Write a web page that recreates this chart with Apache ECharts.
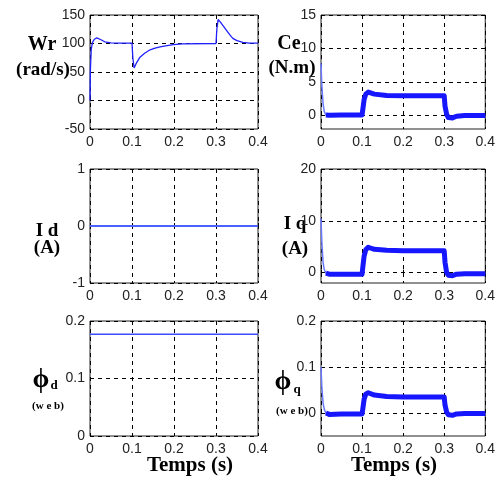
<!DOCTYPE html>
<html>
<head>
<meta charset="utf-8">
<script src="https://cdn.jsdelivr.net/npm/echarts@6/dist/echarts.min.js"></script>
<style>
html,body{margin:0;padding:0;background:#fff;}
.box{width:498px;height:482px;}
</style>
</head>
<body>
<div class="box"></div>
<script>
// rotor speed
const tWr = [0, 0.001, 0.003, 0.006, 0.01, 0.016, 0.025, 0.035, 0.05, 0.07, 0.1, 0.102, 0.105, 0.11, 0.119, 0.13, 0.143, 0.155, 0.167, 0.18, 0.198, 0.22, 0.3, 0.302, 0.305, 0.31, 0.318, 0.325, 0.333, 0.34, 0.35, 0.364, 0.38, 0.4];
const wr = [0, 55, 90, 102, 107, 110, 107, 103, 101, 100.5, 100.5, 75, 57, 65, 76, 83, 89, 92, 94, 96, 98, 99.5, 100, 125, 142, 138, 130, 123, 115, 109, 105, 102, 100.5, 100.5];
// torque, q current, q flux share one time base
const tDyn = [0, 0.002, 0.005, 0.008, 0.012, 0.02, 0.05, 0.1, 0.102, 0.105, 0.109, 0.115, 0.13, 0.16, 0.2, 0.3, 0.302, 0.306, 0.31, 0.32, 0.33, 0.35, 0.4];
const ce = [7.8, 4.5, 1.8, 0.6, 0.1, 0.05, 0.1, 0.1, 1.0, 2.4, 3.2, 3.5, 3.2, 3.0, 2.95, 2.95, 1.4, 0.2, -0.3, -0.35, -0.1, 0.0, 0.0];
const iq = [10.5, 6, 2, 0.6, -0.1, -0.3, -0.3, -0.3, 1.2, 3.2, 4.4, 4.9, 4.5, 4.3, 4.2, 4.2, 2, 0, -0.5, -0.6, -0.3, -0.2, -0.2];
const phiq = [0.1, 0.058, 0.022, 0.008, 0.0, -0.003, -0.002, -0.002, 0.01, 0.03, 0.041, 0.044, 0.039, 0.036, 0.035, 0.035, 0.017, 0.002, -0.004, -0.005, -0.002, -0.001, -0.001];
const tFlat = [0, 0.4];
const id = [0, 0];
const phid = [0.177, 0.177];
const ceTicks = [0, 5, 10, 15];
const iqTicks = [0, 10, 20];
const phiqTicks = [0, 0.1, 0.2];

function pairs(t, v, from){
    let out = [];
    for (let i = from || 0; i < t.length; i++) out.push([t[i], v[i]]);
    return out;
}

const tickFont = '"Liberation Sans Narrow", "Liberation Sans", sans-serif';
const dash = {show:true, lineStyle:{color:"#000", type:[4,4], width:1}};

const boxes = [
    {left:90, top:15, h:114},
    {left:321, top:15, h:114},
    {left:90, top:169, h:114},
    {left:321, top:169, h:114},
    {left:90, top:321, h:115},
    {left:321, top:321, h:115}
];
const yRanges = [
    {min:-50, max:150, interval:50},
    {min:-2, max:15, ticks:ceTicks},
    {min:-1, max:1, interval:1},
    {min:-2, max:20, ticks:iqTicks},
    {min:0, max:0.2, interval:0.1},
    {min:-0.05, max:0.2, ticks:phiqTicks}
];

let grids = [], xAxes = [], yAxes = [];
boxes.forEach(function(b, i){
    grids.push({left:b.left, top:b.top, width:168, height:b.h, show:true,
        borderColor:"#222", borderWidth:1, backgroundColor:"#fff"});
    xAxes.push({type:"value", gridIndex:i, min:0, max:0.4, interval:0.1,
        axisLine:{show:false},
        axisTick:{show:true, inside:true, length:3, lineStyle:{color:"#000"}},
        axisLabel:{color:"#222", fontSize:14, fontFamily:tickFont, margin:6,
            formatter:function(v){ return String(+v.toFixed(1)); }},
        splitLine:dash});
    let r = yRanges[i];
    let y = {type:"value", gridIndex:i, min:r.min, max:r.max,
        axisLine:{show:false},
        axisTick:{show:true, inside:true, length:3, lineStyle:{color:"#000"}},
        axisLabel:{color:"#222", fontSize:14, fontFamily:tickFont, margin:5,
            formatter:function(v){ return String(+v.toFixed(2)); }},
        splitLine:dash};
    if (r.ticks) {
        y.axisLabel.customValues = r.ticks;
        y.axisTick.customValues = r.ticks;
    } else {
        y.interval = r.interval;
    }
    yAxes.push(y);
});

function thin(i, t, v, color, w){
    return {type:"line", xAxisIndex:i, yAxisIndex:i, data:pairs(t, v), symbol:"none",
        silent:true, lineStyle:{color:color, width:w}};
}
function band(i, t, v){
    return {type:"line", xAxisIndex:i, yAxisIndex:i, data:pairs(t, v, 4), symbol:"none",
        silent:true, lineStyle:{color:"#1616ff", width:5, join:"round"}};
}

const serif = '"Liberation Serif", "Times New Roman", serif';
function label(text, x, y, size){
    return {type:"text", x:x, y:y, style:{text:text, fill:"#000", align:"center",
        verticalAlign:"middle", font:"bold " + size + "px " + serif}};
}

let mycharts = echarts.init(document.querySelector(".box"));
mycharts.setOption({
    backgroundColor:"#fff",
    animation:false,
    grid:grids,
    xAxis:xAxes,
    yAxis:yAxes,
    series:[
        thin(0, tWr, wr, "#2020ff", 1.3),
        thin(1, tDyn, ce, "#6a78ff", 1.5),
        band(1, tDyn, ce),
        thin(2, tFlat, id, "#4a62ff", 2),
        thin(3, tDyn, iq, "#6a78ff", 1.5),
        band(3, tDyn, iq),
        thin(4, tFlat, phid, "#3a4cff", 1.5),
        thin(5, tDyn, phiq, "#6a78ff", 1.5),
        band(5, tDyn, phiq)
    ],
    graphic:[
        label("Wr", 42, 45, 20),
        label("(rad/s)", 43, 70, 19),
        label("Ce", 289, 44, 20),
        label("(N.m)", 292, 68, 19),
        label("I d", 47, 231, 19),
        label("(A)", 47, 248, 19),
        label("I q", 295, 224, 19),
        label("(A)", 295, 249, 19),
        label("\u03d5", 41, 380, 27),
        label("d", 54, 386, 13),
        label("(w e b)", 48, 406, 11),
        label("\u03d5", 283, 382, 27),
        label("q", 297, 390, 13),
        label("(w e b)", 292, 411, 11),
        label("Temps (s)", 190, 466, 21),
        label("Temps (s)", 394, 466, 21)
    ]
});
</script>
</body>
</html>
